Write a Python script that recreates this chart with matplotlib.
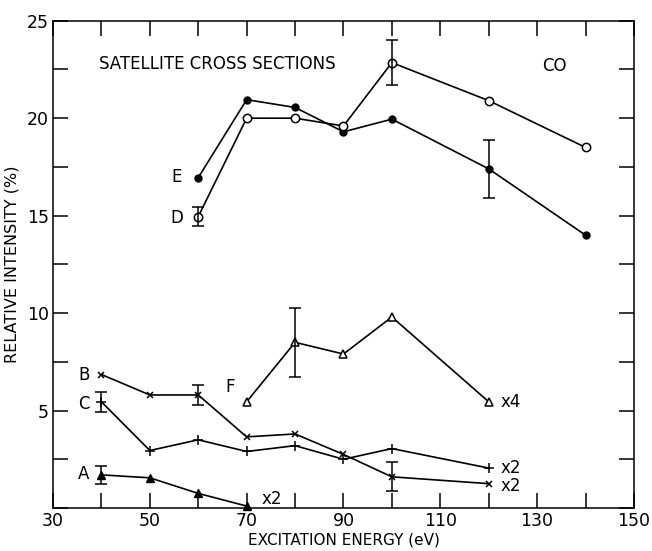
import matplotlib
matplotlib.use('Agg')
import matplotlib.pyplot as plt
from matplotlib.ticker import MultipleLocator, FixedLocator

plt.rcParams['font.family'] = ['DejaVu Sans']

# energies (eV)
energy_ABC = [40, 50, 60, 70, 80, 90, 100, 120]
energy_A = [40, 50, 60, 70]
energy_DE = [60, 70, 80, 90, 100, 120, 140]
energy_F = [70, 80, 90, 100, 120]

# relative intensities (%)
A = [1.7, 1.55, 0.75, 0.1]
B = [6.85, 5.8, 5.8, 3.65, 3.8, 2.75, 1.6, 1.25]
C = [5.45, 2.95, 3.5, 2.9, 3.2, 2.5, 3.05, 2.05]
D = [14.95, 20.0, 20.0, 19.6, 22.85, 20.9, 18.5]
E = [16.95, 20.95, 20.55, 19.3, 19.95, 17.4, 14.0]
F = [5.45, 8.5, 7.9, 9.8, 5.45]

# error bars (x, y, half-width)
err_A = [(40, 1.7, 0.45)]
err_B = [(60, 5.8, 0.5), (100, 1.6, 0.75)]
err_C = [(40, 5.45, 0.5)]
err_D = [(60, 14.95, 0.5), (100, 22.85, 1.15)]
err_E = [(120, 17.4, 1.5)]
err_F = [(80, 8.5, 1.77)]

fig = plt.figure(figsize=(6.52, 5.51), dpi=100)
ax = fig.add_axes([0.0813, 0.078, 0.891, 0.8844])

lw = 1.2
ax.plot(energy_DE, E, color='black', lw=lw, marker='o', ms=5, mfc='black', mec='black')
ax.plot(energy_DE, D, color='black', lw=lw, marker='o', ms=6, mfc='white', mec='black', mew=1.1)
ax.plot(energy_F, F, color='black', lw=lw, marker='^', ms=6, mfc='white', mec='black', mew=1.1)
ax.plot(energy_ABC, B, color='black', lw=lw, marker='x', ms=5, mew=1.1)
ax.plot(energy_ABC, C, color='black', lw=lw, marker='+', ms=7, mew=1.1)
ax.plot(energy_A, A, color='black', lw=lw, marker='^', ms=6, mfc='black', mec='black', clip_on=False)

for errs in [err_A, err_B, err_C, err_D, err_E, err_F]:
    for x, y, e in errs:
        ax.errorbar([x], [y], yerr=[e], fmt='none', ecolor='black', elinewidth=1.1, capsize=4, capthick=1.1)

ax.set_xlim(30, 150)
ax.set_ylim(0, 25)

ax.xaxis.set_major_locator(FixedLocator([30, 50, 70, 90, 110, 130, 150]))
ax.xaxis.set_minor_locator(FixedLocator([40, 60, 80, 100, 120, 140]))
ax.yaxis.set_major_locator(FixedLocator([5, 10, 15, 20, 25]))
ax.yaxis.set_minor_locator(MultipleLocator(2.5))
ax.tick_params(axis='both', which='both', direction='in', length=11, width=1.1,
               top=True, right=True, labelsize=12.5, pad=3)
ax.set_xticklabels(['30', '50', '70', '90', '110', '130', '150'])
ax.set_yticklabels(['5', '10', '15', '20', '25'])
for s in ax.spines.values():
    s.set_linewidth(1.1)

ax.set_xlabel('EXCITATION ENERGY (eV)', fontsize=11)
ax.set_ylabel('RELATIVE INTENSITY (%)', fontsize=11.5)
ax.xaxis.set_label_coords(0.5, -0.05)
ax.yaxis.set_label_coords(-0.058, 0.5)

fs = 12
ax.text(39.5, 22.8, 'SATELLITE CROSS SECTIONS', fontsize=12, va='center', ha='left')
ax.text(133.5, 22.7, 'CO', fontsize=12, va='center', ha='center')
ax.text(56.5, 17.0, 'E', fontsize=fs, va='center', ha='right')
ax.text(57, 14.9, 'D', fontsize=fs, va='center', ha='right')
ax.text(37.5, 6.85, 'B', fontsize=fs, va='center', ha='right')
ax.text(37.5, 5.35, 'C', fontsize=fs, va='center', ha='right')
ax.text(37.5, 1.75, 'A', fontsize=fs, va='center', ha='right')
ax.text(67.5, 6.2, 'F', fontsize=fs, va='center', ha='right')
ax.text(73, 0.45, 'x2', fontsize=fs, va='center', ha='left')
ax.text(122.5, 5.45, 'x4', fontsize=fs, va='center', ha='left')
ax.text(122.5, 2.05, 'x2', fontsize=fs, va='center', ha='left')
ax.text(122.5, 1.15, 'x2', fontsize=fs, va='center', ha='left')

fig.savefig('out.png', dpi=100)
